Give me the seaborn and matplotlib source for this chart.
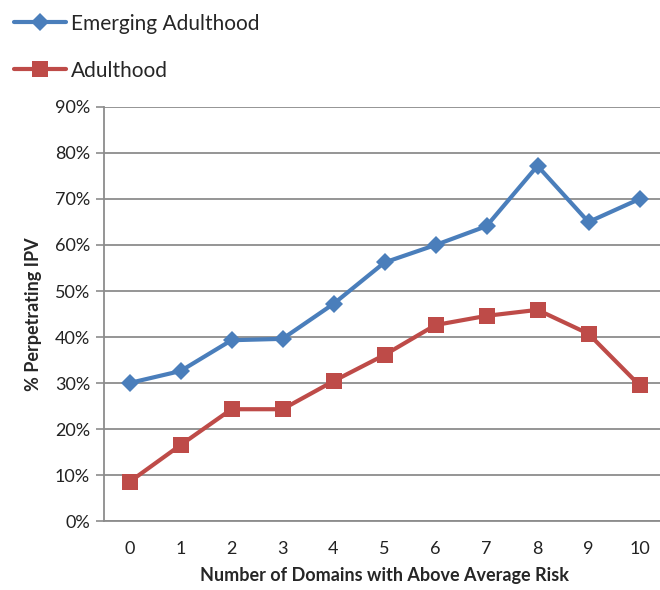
import seaborn as sns
import matplotlib.pyplot as plt
import pandas as pd

domains = list(range(11))
emerging = [30.0, 32.6, 39.3, 39.6, 47.2, 56.2, 60.0, 64.1, 77.2, 65.0, 70.0]
adulthood = [8.5, 16.5, 24.3, 24.3, 30.4, 36.1, 42.6, 44.6, 45.9, 40.7, 29.5]
series_names = ["Emerging Adulthood", "Adulthood"]
yticks = [0, 10, 20, 30, 40, 50, 60, 70, 80, 90]

df = pd.concat([
    pd.DataFrame({"domains": domains, "pct": emerging, "group": series_names[0]}),
    pd.DataFrame({"domains": domains, "pct": adulthood, "group": series_names[1]}),
])

sns.set_style("white")
plt.rcParams['font.family'] = ['Lato', 'DejaVu Sans']

fig = plt.figure(figsize=(6.6, 5.9), dpi=100)
ax = fig.add_axes([104 / 660, 69 / 590, 561 / 660, 414 / 590])

colors = {"Emerging Adulthood": "#4A7EBB", "Adulthood": "#BE4B48"}
markers = {"Emerging Adulthood": "D", "Adulthood": "s"}
sizes = {"Emerging Adulthood": 9, "Adulthood": 11}

for name in series_names:
    sub = df[df["group"] == name]
    sns.lineplot(data=sub, x="domains", y="pct", ax=ax, color=colors[name],
                 marker=markers[name], markersize=sizes[name], linewidth=3,
                 markeredgewidth=0, label=name, legend=False, zorder=3)

ax.set_xlim(-0.5, 10.5)
ax.set_ylim(0, 90)
ax.set_yticks(yticks)
ax.set_yticklabels([f"{t}%" for t in yticks], fontsize=13, color="#222222")
ax.set_xticks(domains)
ax.set_xticklabels([str(d) for d in domains], fontsize=13, color="#222222")
ax.yaxis.grid(True, color="#8c8c8c", linewidth=1.3)
ax.tick_params(axis="y", which="both", left=True, length=6, width=1.2, color="#8c8c8c", pad=4)
ax.tick_params(axis="x", bottom=False, pad=11)

for side in ["top", "right"]:
    ax.spines[side].set_visible(False)
ax.spines["left"].set_color("#8c8c8c")
ax.spines["bottom"].set_color("#8c8c8c")
ax.spines["left"].set_linewidth(1.3)
ax.spines["bottom"].set_linewidth(1.3)

ax.set_xlabel("Number of Domains with Above Average Risk", fontsize=13, fontweight="bold", labelpad=7)
ax.set_ylabel("% Perpetrating IPV", fontsize=13, fontweight="bold", labelpad=9)

handles, labels = ax.get_legend_handles_labels()
fig.legend(handles, labels, loc="upper left", bbox_to_anchor=(0.0, 1.0),
           frameon=False, fontsize=15, handlelength=2.5, handletextpad=0.25,
           labelspacing=1.3, borderaxespad=0.25)

fig.savefig("out.png", dpi=100)
